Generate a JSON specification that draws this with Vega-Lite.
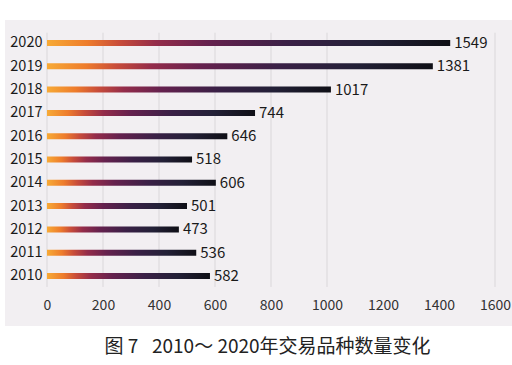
{
  "$schema": "https://vega.github.io/schema/vega-lite/v6.json",
  "width": 507,
  "height": 306,
  "autosize": {"type": "none"},
  "padding": {"left": 5, "top": 20, "right": 0, "bottom": 39},
  "background": "white",
  "config": {
    "view": {"fill": "#f2eff2", "stroke": null},
    "font": "Noto Sans CJK SC",
    "axis": {"labelOverlap": false, "labelFlush": false, "labelBound": false}
  },
  "title": {
    "text": "图 7\u2002\u00a02010～ 2020年交易品种数量变化",
    "orient": "bottom",
    "fontSize": 19,
    "fontWeight": "normal",
    "color": "#222222",
    "offset": 12,
    "dx": 9
  },
  "datasets": {
    "main": [
      {"year": 2020, "value": 1549, "bar": 1440},
      {"year": 2019, "value": 1381, "bar": 1378},
      {"year": 2018, "value": 1017, "bar": 1014},
      {"year": 2017, "value": 744, "bar": 743},
      {"year": 2016, "value": 646, "bar": 644},
      {"year": 2015, "value": 518, "bar": 518},
      {"year": 2014, "value": 606, "bar": 603},
      {"year": 2013, "value": 501, "bar": 500},
      {"year": 2012, "value": 473, "bar": 471},
      {"year": 2011, "value": 536, "bar": 533},
      {"year": 2010, "value": 582, "bar": 582}
    ],
    "grid": [
      {"g": 0}, {"g": 200}, {"g": 400}, {"g": 600}, {"g": 800}, {"g": 1000}, {"g": 1600}
    ]
  },
  "layer": [
    {
      "data": {"name": "grid"},
      "mark": {"type": "rule", "color": "#dad7da", "strokeWidth": 1},
      "encoding": {
        "x": {
          "field": "g", "type": "quantitative",
          "scale": {"domain": [-150, 1660.7], "nice": false, "zero": false, "padding": 0},
          "axis": {"values": [0, 200, 400, 600, 800, 1000, 1200, 1400, 1600], "format": "d", "orient": "bottom", "offset": -30, "domain": false, "ticks": false, "grid": false, "labelFontSize": 14, "labelColor": "#333333", "labelPadding": 2, "title": null, "labelFlush": false, "labelOverlap": false}
        },
        "y": {
          "datum": 2009.53, "type": "quantitative",
          "scale": {"domain": [2007.854, 2020.987], "nice": false, "zero": false, "padding": 0},
          "axis": {"values": [2010, 2011, 2012, 2013, 2014, 2015, 2016, 2017, 2018, 2019, 2020], "format": "d", "orient": "left", "offset": -42, "domain": false, "ticks": false, "grid": false, "labelFontSize": 14.5, "labelColor": "#1a1a1a", "labelPadding": 5, "title": null, "labelOverlap": false, "labelFlush": false}
        },
        "y2": {"datum": 2020.44}
      }
    },
    {
      "data": {"name": "main"},
      "mark": {
        "type": "bar", "orient": "horizontal", "size": 6,
        "color": {
          "gradient": "linear", "x1": 0, "x2": 1, "y1": 0, "y2": 0,
          "stops": [
            {"offset": 0, "color": "#f7aa36"},
            {"offset": 0.1, "color": "#ee7c2c"},
            {"offset": 0.18, "color": "#c84c3a"},
            {"offset": 0.27, "color": "#942c4a"},
            {"offset": 0.4, "color": "#65214e"},
            {"offset": 0.6, "color": "#3a2046"},
            {"offset": 0.8, "color": "#232037"},
            {"offset": 1, "color": "#0f0f16"}
          ]
        }
      },
      "encoding": {
        "x": {"field": "bar", "type": "quantitative", "title": null},
        "x2": {"datum": 0},
        "y": {"field": "year", "type": "quantitative", "title": null, "axis": {"values": [2010, 2011, 2012, 2013, 2014, 2015, 2016, 2017, 2018, 2019, 2020], "format": "d", "orient": "left", "offset": -42, "domain": false, "ticks": false, "grid": false, "labelFontSize": 14.5, "labelColor": "#1a1a1a", "labelPadding": 5, "title": null, "labelOverlap": false, "labelFlush": false}}
      }
    },
    {
      "data": {"name": "main"},
      "mark": {"type": "text", "align": "left", "dx": 4, "baseline": "middle", "fontSize": 15, "color": "#1a1a1a"},
      "encoding": {
        "x": {"field": "bar", "type": "quantitative", "title": null},
        "y": {"field": "year", "type": "quantitative", "title": null, "axis": {"values": [2010, 2011, 2012, 2013, 2014, 2015, 2016, 2017, 2018, 2019, 2020], "format": "d", "orient": "left", "offset": -42, "domain": false, "ticks": false, "grid": false, "labelFontSize": 14.5, "labelColor": "#1a1a1a", "labelPadding": 5, "title": null, "labelOverlap": false, "labelFlush": false}},
        "text": {"field": "value"}
      }
    }
  ]
}
